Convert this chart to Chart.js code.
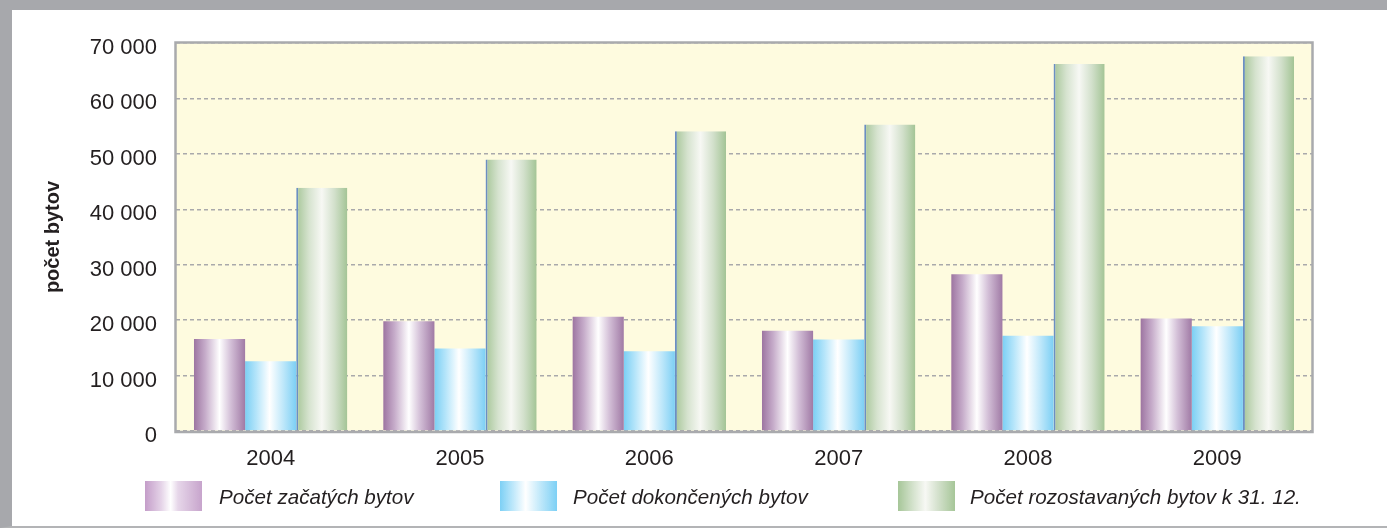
<!DOCTYPE html>
<html lang="sk">
<head>
<meta charset="utf-8">
<title>Počet bytov 2004–2009</title>
<script src="https://cdn.jsdelivr.net/npm/chart.js@4.4.1/dist/chart.umd.min.js"></script>
<style>
  html, body { margin: 0; padding: 0; background: #fff; }
  body { width: 1387px; height: 528px; position: relative; overflow: hidden;
         font-family: "Liberation Sans", Arial, sans-serif; }
  .frame { position: absolute; left: 0; top: 0; width: 1387px; height: 528px; box-sizing: border-box;
           border-top: 10px solid #a7a8ac; border-left: 12px solid #a7a8ac; border-bottom: 2px solid #b3b4b6; }
  #wrap { position: absolute; left: 0; top: 0; width: 1387px; height: 528px; }
  .legend { position: absolute; top: 481px; left: 0; }
  .item { position: absolute; top: 0; height: 30px; white-space: nowrap; }
  .box { position: absolute; top: 0; left: 0; width: 57px; height: 30px; }
  .label { position: absolute; top: 1px; font-style: italic; font-size: 20.6px; line-height: 30px; color: #231f20; }
</style>
</head>
<body>
<div class="frame"></div>
<div id="wrap"><canvas id="chart" width="1387" height="528"></canvas></div>
<div class="legend" id="legend"></div>
<script>
// --- DATA ---
const years = ['2004', '2005', '2006', '2007', '2008', '2009'];
const started = [16600, 19800, 20600, 18100, 28300, 20300];
const completed = [12600, 14900, 14400, 16500, 17200, 18900];
const underConstruction = [43900, 49000, 54100, 55300, 66200, 67600];
const seriesNames = ['Počet začatých bytov', 'Počet dokončených bytov', 'Počet rozostavaných bytov k 31. 12.'];
const yTicks = [0, 10000, 20000, 30000, 40000, 50000, 60000, 70000];

// --- STYLES ---
const barStops = [
    [[0, '#9d75a1'], [0.22, '#c6acca'], [0.5, '#ffffff'], [0.72, '#d3bfd7'], [1, '#a07aa5']],
    [[0, '#7bcff4'], [0.22, '#b5e5fa'], [0.48, '#ffffff'], [0.75, '#bde7fa'], [1, '#7ccff4']],
    [[0, '#a6c698'], [0.25, '#d6e3cf'], [0.5, '#f7f8f4'], [0.75, '#d2e0cb'], [1, '#a3c495']]
];
const legendCss = [
    'linear-gradient(90deg, #c49dc9 0%, #e4d2e7 28%, #ffffff 45%, #e6d6e9 58%, #c7a4cc 100%)',
    'linear-gradient(90deg, #7dd0f5 0%, #c4eafb 25%, #ffffff 45%, #c2e9fa 70%, #7dd0f5 100%)',
    'linear-gradient(90deg, #a6c698 0%, #d7e4d0 28%, #f7f8f4 48%, #d4e1cd 70%, #a6c698 100%)'
];
const legendPos = [[145, 219], [500, 573], [898, 970]];

function spaced(v) {
    return String(v).replace(/\B(?=(\d{3})+(?!\d))/g, ' ');
}

// cylinder-like horizontal gradient for every bar
const cylinder = {
    id: 'cylinder',
    beforeDatasetsDraw(chart) {
        const c = chart.ctx;
        chart.data.datasets.forEach((ds, i) => {
            chart.getDatasetMeta(i).data.forEach(bar => {
                const x0 = bar.x - bar.width / 2;
                const g = c.createLinearGradient(x0, 0, x0 + bar.width, 0);
                barStops[i].forEach(s => g.addColorStop(s[0], s[1]));
                bar.options = Object.assign({}, bar.options, { backgroundColor: g });
            });
        });
    }
};

// pale plot background + grey frame round the plot
const plotFrame = {
    id: 'plotFrame',
    beforeDraw(chart) {
        const a = chart.chartArea, c = chart.ctx;
        c.save();
        c.fillStyle = '#fefbdf';
        c.fillRect(a.left, a.top, a.right - a.left, a.bottom - a.top);
        c.restore();
    },
    afterDraw(chart) {
        const a = chart.chartArea, c = chart.ctx;
        c.save();
        c.strokeStyle = '#a9aaad';
        c.lineWidth = 2.5;
        c.strokeRect(a.left - 0.5, a.top - 0.5, a.right - a.left + 1, a.bottom - a.top + 1.5);
        c.restore();
    }
};

Chart.defaults.font.family = '"Liberation Sans", Arial, sans-serif';
Chart.defaults.color = '#231f20';

new Chart(document.getElementById('chart'), {
    type: 'bar',
    data: {
        labels: years,
        datasets: [
            { label: seriesNames[0], data: started, backgroundColor: '#c6acca', borderWidth: 0 },
            { label: seriesNames[1], data: completed, backgroundColor: '#b5e5fa', borderWidth: 0 },
            { label: seriesNames[2], data: underConstruction, backgroundColor: '#d6e3cf',
              borderColor: '#6b8fc2', borderWidth: { left: 2, top: 0, right: 0, bottom: 0 }, borderSkipped: false }
        ]
    },
    options: {
        responsive: false,
        animation: false,
        devicePixelRatio: 1,
        layout: { padding: { left: 37, top: 43, right: 75, bottom: 0 } },
        datasets: { bar: { categoryPercentage: 0.81, barPercentage: 1.0 } },
        plugins: { legend: { display: false }, tooltip: { enabled: false } },
        scales: {
            x: {
                grid: { display: false, drawTicks: false },
                border: { display: false },
                ticks: { font: { size: 22 }, padding: 15 },
                afterFit(s) { s.height = 97; }
            },
            y: {
                min: 0,
                max: 70000,
                afterBuildTicks(s) { s.ticks = yTicks.map(v => ({ value: v })); },
                grid: { color: '#a9a9ab', lineWidth: 1.5, drawTicks: false },
                border: { display: false, dash: [4, 3] },
                ticks: { font: { size: 22 }, padding: 19, labelOffset: 5, callback: v => spaced(v) },
                title: { display: true, text: 'počet bytov', font: { size: 20, weight: 'bold' }, padding: { top: 4, bottom: 4 } },
                afterFit(s) { s.width = 139; }
            }
        }
    },
    plugins: [plotFrame, cylinder]
});

// --- LEGEND ---
const legend = document.getElementById('legend');
seriesNames.forEach((name, i) => {
    const item = document.createElement('div');
    item.className = 'item';
    item.style.left = legendPos[i][0] + 'px';
    const box = document.createElement('div');
    box.className = 'box';
    box.style.background = legendCss[i];
    const label = document.createElement('span');
    label.className = 'label';
    label.style.left = (legendPos[i][1] - legendPos[i][0]) + 'px';
    label.textContent = name;
    item.appendChild(box);
    item.appendChild(label);
    legend.appendChild(item);
});
</script>
</body>
</html>
